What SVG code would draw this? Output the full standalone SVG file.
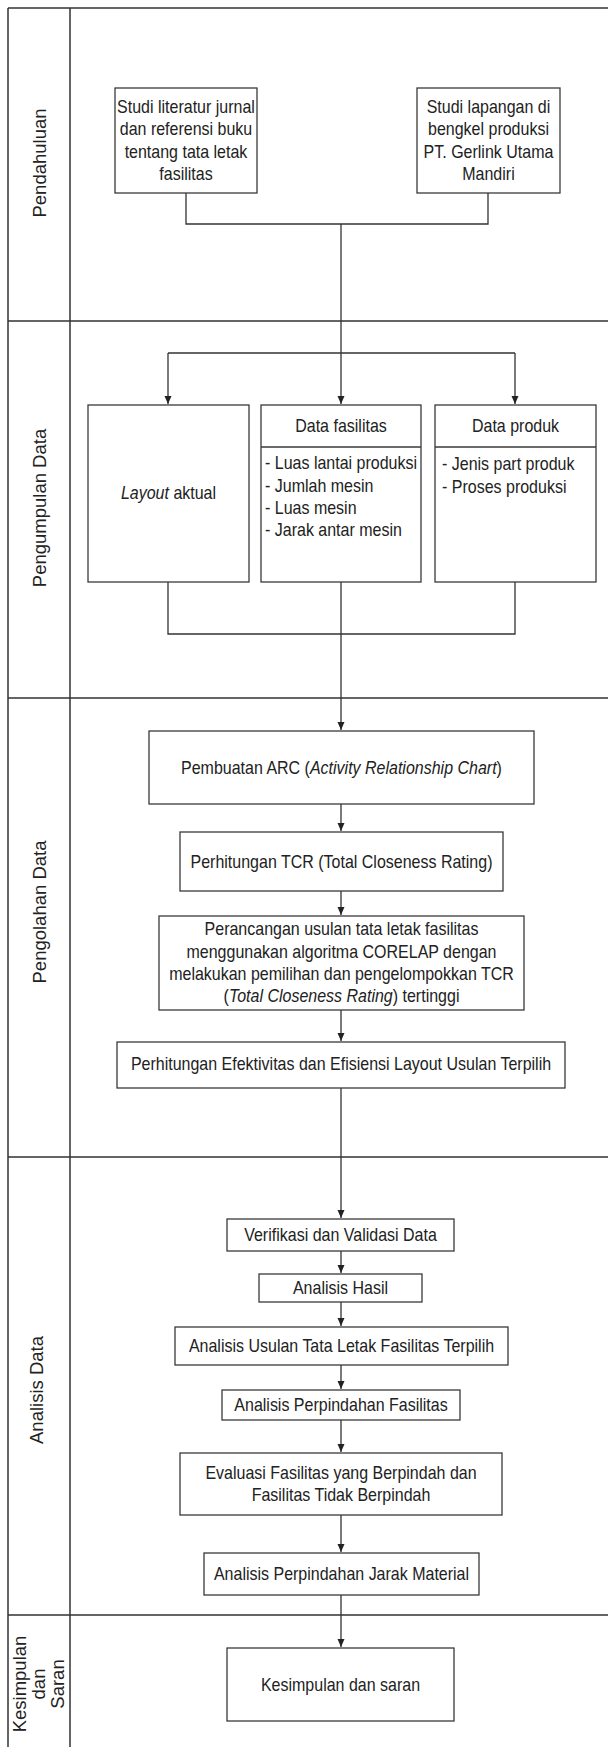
<svg xmlns="http://www.w3.org/2000/svg" width="608" height="1747" viewBox="0 0 608 1747">
<defs>
<style>
.lane{stroke:#333;stroke-width:1.5;fill:none}
.box{fill:#fff;stroke:#3a3a3a;stroke-width:1.3}
.con{fill:none;stroke:#333;stroke-width:1.3}
.t{font-family:"Liberation Sans",Arial,sans-serif;font-size:16px;fill:#222;dominant-baseline:central}
.c{text-anchor:middle}
.i{font-style:italic}
.lbl{font-family:"Liberation Sans",Arial,sans-serif;font-size:18.5px;fill:#222;text-anchor:middle;dominant-baseline:central}
</style>
<marker id="ah" markerUnits="userSpaceOnUse" markerWidth="8" markerHeight="8" refX="8" refY="3.5" orient="auto">
<path d="M0,0 L8,3.5 L0,7 z" fill="#222"/>
</marker>
</defs>
<rect width="608" height="1747" fill="#fff"/>

<g id="lanes">
<path class="lane" d="M8,8 H608 M8,8 V1747 M70,8 V1747 M8,321 H608 M8,698 H608 M8,1157 H608 M8,1615 H608"/>
<text class="lbl" transform="translate(39,163) rotate(-90)">Pendahuluan</text>
<text class="lbl" transform="translate(39,508) rotate(-90)">Pengumpulan Data</text>
<text class="lbl" transform="translate(39,912) rotate(-90)">Pengolahan Data</text>
<text class="lbl" transform="translate(36,1390) rotate(-90)">Analisis Data</text>
<text class="lbl" transform="translate(38,1684) rotate(-90)"><tspan x="0" y="-19">Kesimpulan</tspan><tspan x="0" y="0">dan</tspan><tspan x="0" y="19">Saran</tspan></text>
</g>

<g id="connectors">
<path class="con" d="M186,193 V224 H488 V193"/>
<path class="con" d="M341,224 V404" marker-end="url(#ah)"/>
<path class="con" d="M168,353 H515"/>
<path class="con" d="M168,353 V404" marker-end="url(#ah)"/>
<path class="con" d="M515,353 V404" marker-end="url(#ah)"/>
<path class="con" d="M168,582 V634 H515 V582"/>
<path class="con" d="M341,582 V730" marker-end="url(#ah)"/>
<path class="con" d="M341,804 V831" marker-end="url(#ah)"/>
<path class="con" d="M341,891 V915" marker-end="url(#ah)"/>
<path class="con" d="M341,1010 V1041" marker-end="url(#ah)"/>
<path class="con" d="M341,1088 V1218" marker-end="url(#ah)"/>
<path class="con" d="M341,1251 V1273" marker-end="url(#ah)"/>
<path class="con" d="M341,1302 V1326" marker-end="url(#ah)"/>
<path class="con" d="M341,1365 V1389" marker-end="url(#ah)"/>
<path class="con" d="M341,1420 V1452" marker-end="url(#ah)"/>
<path class="con" d="M341,1515 V1552" marker-end="url(#ah)"/>
<path class="con" d="M341,1595 V1647" marker-end="url(#ah)"/>
</g>

<g id="studi-literatur">
<rect class="box" x="115" y="88" width="142" height="105"/>
<g transform="translate(0,140) scale(1,1.15)">
<text class="t c" x="186" y="-29.2">Studi literatur jurnal</text>
<text class="t c" x="186" y="-9.7">dan referensi buku</text>
<text class="t c" x="186" y="9.7">tentang tata letak</text>
<text class="t c" x="186" y="29.2">fasilitas</text>
</g>
</g>

<g id="studi-lapangan">
<rect class="box" x="417" y="88" width="143" height="105"/>
<g transform="translate(0,140) scale(1,1.15)">
<text class="t c" x="488.5" y="-29.2">Studi lapangan di</text>
<text class="t c" x="488.5" y="-9.7">bengkel produksi</text>
<text class="t c" x="488.5" y="9.7">PT. Gerlink Utama</text>
<text class="t c" x="488.5" y="29.2">Mandiri</text>
</g>
</g>

<g id="layout-aktual">
<rect class="box" x="88" y="405" width="161" height="177"/>
<text class="t c" transform="translate(0,493) scale(1,1.15)" x="168.5" y="0"><tspan class="i">Layout</tspan> aktual</text>
</g>

<g id="data-fasilitas">
<rect class="box" x="261" y="405" width="160" height="177"/>
<line class="box" x1="261" y1="447" x2="421" y2="447"/>
<text class="t c" transform="translate(0,426) scale(1,1.15)" x="341" y="0">Data fasilitas</text>
<g transform="translate(0,496.5) scale(1,1.15)">
<text class="t" x="265" y="-29.1">- Luas lantai produksi</text>
<text class="t" x="265" y="-9.7">- Jumlah mesin</text>
<text class="t" x="265" y="9.7">- Luas mesin</text>
<text class="t" x="265" y="29.1">- Jarak antar mesin</text>
</g>
</g>

<g id="data-produk">
<rect class="box" x="435" y="405" width="161" height="177"/>
<line class="box" x1="435" y1="447" x2="596" y2="447"/>
<text class="t c" transform="translate(0,426) scale(1,1.15)" x="515.5" y="0">Data produk</text>
<g transform="translate(0,475.5) scale(1,1.15)">
<text class="t" x="442" y="-10">- Jenis part produk</text>
<text class="t" x="442" y="10">- Proses produksi</text>
</g>
</g>

<g id="arc">
<rect class="box" x="149" y="731" width="385" height="73"/>
<text class="t c" transform="translate(0,768) scale(1,1.15)" x="341.5" y="0">Pembuatan ARC (<tspan class="i">Activity Relationship Chart</tspan>)</text>
</g>

<g id="tcr">
<rect class="box" x="180" y="832" width="323" height="59"/>
<text class="t c" transform="translate(0,862) scale(1,1.15)" x="341.5" y="0">Perhitungan TCR (Total Closeness Rating)</text>
</g>

<g id="corelap">
<rect class="box" x="159" y="916" width="365" height="94"/>
<g transform="translate(0,962.5) scale(1,1.15)">
<text class="t c" x="341.5" y="-29.1">Perancangan usulan tata letak fasilitas</text>
<text class="t c" x="341.5" y="-9.7">menggunakan algoritma CORELAP dengan</text>
<text class="t c" x="341.5" y="9.7">melakukan pemilihan dan pengelompokkan TCR</text>
<text class="t c" x="341.5" y="29.1">(<tspan class="i">Total Closeness Rating</tspan>) tertinggi</text>
</g>
</g>

<g id="efektivitas">
<rect class="box" x="117" y="1042" width="448" height="46"/>
<text class="t c" transform="translate(0,1064) scale(1,1.15)" x="341" y="0">Perhitungan Efektivitas dan Efisiensi Layout Usulan Terpilih</text>
</g>

<g id="verifikasi">
<rect class="box" x="227" y="1219" width="227" height="32"/>
<text class="t c" transform="translate(0,1235) scale(1,1.15)" x="340.5" y="0">Verifikasi dan Validasi Data</text>
</g>

<g id="analisis-hasil">
<rect class="box" x="259" y="1274" width="163" height="28"/>
<text class="t c" transform="translate(0,1288) scale(1,1.15)" x="340.5" y="0">Analisis Hasil</text>
</g>

<g id="analisis-usulan">
<rect class="box" x="175" y="1327" width="333" height="38"/>
<text class="t c" transform="translate(0,1346) scale(1,1.15)" x="341.5" y="0">Analisis Usulan Tata Letak Fasilitas Terpilih</text>
</g>

<g id="analisis-perpindahan-fasilitas">
<rect class="box" x="222" y="1390" width="238" height="30"/>
<text class="t c" transform="translate(0,1405) scale(1,1.15)" x="341" y="0">Analisis Perpindahan Fasilitas</text>
</g>

<g id="evaluasi">
<rect class="box" x="180" y="1453" width="322" height="62"/>
<g transform="translate(0,1483.5) scale(1,1.15)">
<text class="t c" x="341" y="-9.7">Evaluasi Fasilitas yang Berpindah dan</text>
<text class="t c" x="341" y="9.7">Fasilitas Tidak Berpindah</text>
</g>
</g>

<g id="analisis-jarak">
<rect class="box" x="204" y="1553" width="275" height="42"/>
<text class="t c" transform="translate(0,1574) scale(1,1.15)" x="341.5" y="0">Analisis Perpindahan Jarak Material</text>
</g>

<g id="kesimpulan">
<rect class="box" x="227" y="1648" width="227" height="73"/>
<text class="t c" transform="translate(0,1684.5) scale(1,1.15)" x="340.5" y="0">Kesimpulan dan saran</text>
</g>
</svg>
